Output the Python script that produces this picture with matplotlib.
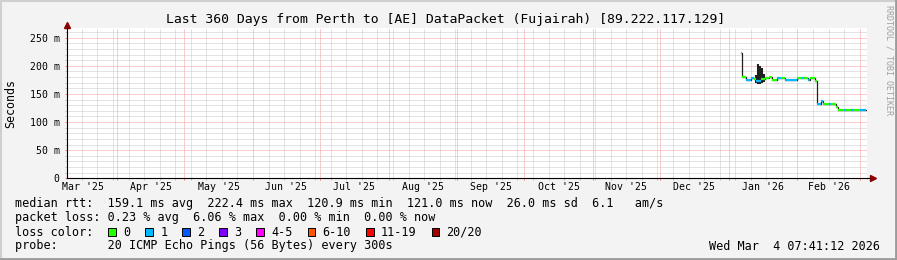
import matplotlib
matplotlib.use("Agg")
import matplotlib.pyplot as plt
import matplotlib.dates as mdates
from matplotlib.patches import Rectangle
import numpy as np
import pandas as pd

# time window: last 360 days up to the graph timestamp
end_time = pd.Timestamp("2026-03-04 07:41:12")
start_time = end_time - pd.Timedelta(days=360)

# median rtt steps (segment start, ms, loss class index)
seg_start = ["2026-01-06 12:00", "2026-01-07 00:00", "2026-01-08 22:00", "2026-01-11 00:00",
             "2026-01-12 06:00", "2026-01-13 12:00", "2026-01-15 12:00", "2026-01-17 06:00",
             "2026-01-19 00:00", "2026-01-20 12:00", "2026-01-22 18:00", "2026-01-24 12:00",
             "2026-01-26 12:00", "2026-01-31 18:00", "2026-02-03 00:00", "2026-02-04 00:00",
             "2026-02-05 18:00", "2026-02-06 12:00", "2026-02-08 18:00", "2026-02-09 16:00",
             "2026-02-11 12:00", "2026-02-12 12:00", "2026-02-15 00:00", "2026-02-16 00:00",
             "2026-02-18 06:00", "2026-02-19 06:00", "2026-02-22 00:00", "2026-02-23 00:00",
             "2026-02-25 00:00", "2026-02-26 12:00", "2026-03-01 00:00"]
seg_end_last = "2026-03-03 18:00"
median_ms = [223, 180, 175, 178, 177, 173, 176, 178, 180, 174, 179, 179, 175, 179, 179, 178,
             174, 178, 173, 133, 138, 133, 133, 133, 126, 122, 122, 122, 122, 122, 121]
seg_loss = [0, 0, 1, 1, 0, 1, 0, 0, 0, 0, 1, 0, 1, 0, 1, 0,
            1, 0, 0, 1, 1, 0, 1, 0, 0, 0, 1, 0, 1, 0, 1]

# smoke spikes (time, low ms, high ms)
smoke_time = ["2026-01-13 06:00", "2026-01-14 06:00", "2026-01-15 04:00", "2026-01-16 00:00",
              "2026-01-17 00:00"]
smoke_low = [170, 168, 168, 170, 172]
smoke_high = [183, 203, 200, 197, 185]

loss_labels = ["0", "1", "2", "3", "4-5", "6-10", "11-19", "20/20"]
loss_colors = ["#26ff00", "#00b8ff", "#0059ff", "#7e00ff", "#ff00ff", "#ff5500", "#ff0000", "#a10000"]

rtt_line = "median rtt:  159.1 ms avg  222.4 ms max  120.9 ms min  121.0 ms now  26.0 ms sd  6.1   am/s"
loss_line = "packet loss: 0.23 % avg  6.06 % max  0.00 % min  0.00 % now"
probe_line = "probe:       20 ICMP Echo Pings (56 Bytes) every 300s"
stamp = "Wed Mar  4 07:41:12 2026"
title = "Last 360 Days from Perth to [AE] DataPacket (Fujairah) [89.222.117.129]"

W, H = 897, 260
mono = "DejaVu Sans Mono"
fig = plt.figure(figsize=(W / 100, H / 100), dpi=100, facecolor="#f3f3f3")

# main plot area: x 67..867 px, y 28..178.3 px
ax = fig.add_axes([67 / W, (H - 178.3) / H, 800 / W, 150.3 / H])
ax.set_facecolor("white")

starts = pd.to_datetime(seg_start)
ends = list(starts[1:]) + [pd.Timestamp(seg_end_last)]
xs = mdates.date2num(starts)
xe = mdates.date2num(ends)

# black connecting step line, then colored median on top
ax.step(np.append(xs, xe[-1]), median_ms + [median_ms[-1]], where="post",
        color="#202020", lw=0.9, zorder=3)
ax.vlines(mdates.date2num(pd.to_datetime(smoke_time)), smoke_low, smoke_high,
          color="#202020", lw=1.5, zorder=3)
ax.hlines(median_ms, xs, xe, colors=[loss_colors[i] for i in seg_loss], lw=1.6, zorder=4)

ax.set_xlim(mdates.date2num(start_time), mdates.date2num(end_time))
ax.set_ylim(0, 267.3)

# grid
ax.xaxis.set_major_locator(mdates.MonthLocator(bymonthday=1))
ax.xaxis.set_minor_locator(mdates.WeekdayLocator(byweekday=mdates.SU))
ax.xaxis.set_major_formatter(plt.NullFormatter())
ax.yaxis.set_major_locator(plt.MultipleLocator(50))
ax.yaxis.set_minor_locator(plt.MultipleLocator(10))
ax.yaxis.set_major_formatter(plt.FuncFormatter(lambda v, p: "0" if v == 0 else f"{v:.0f} m"))
ax.grid(which="minor", color="#c8c8c8", lw=0.72, ls=(0, (1, 1)))
ax.grid(which="major", color="#f29a9a", lw=0.72, ls=(0, (1, 1)))
ax.set_axisbelow(True)
ax.tick_params(which="both", direction="out", length=1.6, width=0.72)
ax.tick_params(which="major", color="#f08080")
ax.tick_params(which="minor", color="#c0c0c0")
ax.tick_params(axis="y", which="major", labelsize=7.1, pad=3.6)
for lab in ax.get_yticklabels():
    lab.set_family(mono)

for s in ["top", "right"]:
    ax.spines[s].set_visible(False)
for s in ["left", "bottom"]:
    ax.spines[s].set_color("black")
    ax.spines[s].set_linewidth(0.8)
    ax.spines[s].set_zorder(5)

# month labels centred in each month
months = pd.date_range(start_time.normalize().replace(day=1), end_time, freq="MS")
for m in months:
    mid = m + (m + pd.offsets.MonthBegin(1) - m) / 2
    if start_time <= mid <= end_time:
        ax.text(mdates.date2num(mid), -8.3 / 0.5624, m.strftime("%b '%y"), fontsize=7.1,
                family=mono, ha="center", va="center", transform=ax.transData, clip_on=False)

# axis arrows
ax.plot([1.0, 1.008], [0, 0], color="black", lw=0.8, transform=ax.transAxes, clip_on=False)
ax.plot([1.008], [0], marker=">", ms=4, color="#8b0000", transform=ax.transAxes, clip_on=False)
ax.plot([0], [1.02], marker="^", ms=4, color="#8b0000", transform=ax.transAxes, clip_on=False)

# overlay in pixel coordinates for texts and legend
ov = fig.add_axes([0, 0, 1, 1], zorder=10)
ov.set_xlim(0, W)
ov.set_ylim(H, 0)
ov.axis("off")
ov.patch.set_visible(False)

ov.text(446, 20, title, fontsize=9.45, family=mono, ha="center", va="center")
ov.text(11, 103, "Seconds", fontsize=8.4, family=mono, rotation=90, ha="center", va="center")
ov.text(889, 60, "RRDTOOL / TOBI OETIKER", fontsize=6, family=mono, rotation=270,
        ha="center", va="center", color="#a0a0a0")

x0, cw = 15, 7.12
fs = 8.5
ov.text(x0, 204, rtt_line, fontsize=fs, family=mono, va="center")
ov.text(x0, 218, loss_line, fontsize=fs, family=mono, va="center")
ov.text(x0, 232, "loss color:", fontsize=fs, family=mono, va="center")
ov.text(x0, 246, probe_line, fontsize=fs, family=mono, va="center")
ov.text(880, 246, stamp, fontsize=fs, family=mono, va="center", ha="right")

c = 13.1
for lab, col in zip(loss_labels, loss_colors):
    bx = x0 + c * cw
    ov.add_patch(Rectangle((bx, 228), 7.7, 7.7, facecolor=col, edgecolor="black", lw=0.7))
    ov.text(x0 + (c + 2.1) * cw, 232, lab, fontsize=fs, family=mono, va="center")
    c += 4.2 + len(lab)

# image border (light top/left, dark bottom/right)
ov.plot([1, 1, W - 1], [H - 1, 1, 1], color="#cfcfcf", lw=1.5)
ov.plot([1, W - 1.2, W - 1.2], [H - 1.2, H - 1.2, 1], color="#9b9b9b", lw=2)

fig.savefig("out.png", dpi=100, facecolor=fig.get_facecolor())
